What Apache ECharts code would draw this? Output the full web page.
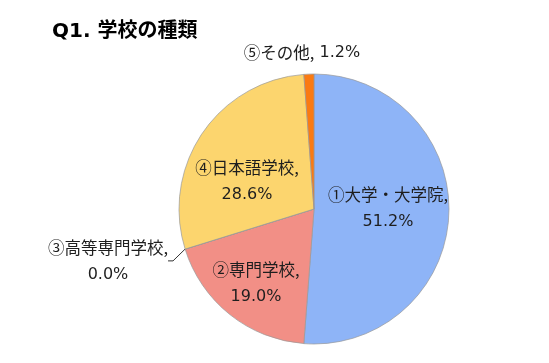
<!DOCTYPE html>
<html><head><meta charset="utf-8">
<script src="https://cdn.jsdelivr.net/npm/echarts@6/dist/echarts.min.js"></script>
<style>html,body{margin:0;padding:0;background:#fff}#c{width:549px;height:363px}</style>
</head><body><div id="c"></div>
<script>
const titleText = 'Q1. 学校の種類';
const categories = ['①大学・大学院', '②専門学校', '③高等専門学校', '④日本語学校', '⑤その他'];
const values = [51.2, 19.0, 0.0, 28.6, 1.2];
const allColors = ['#8EB4F7', '#F28F86', '#999999', '#FCD56E', '#FA7A12'];
const labelPos = [[388, 208], [256, 283], [108, 261], [247, 181], [302, 53]];

const chart = echarts.init(document.getElementById('c'), null, {renderer: 'canvas'});
const cjk = '"Noto Sans CJK JP", sans-serif';
const lat = '"DejaVu Sans", sans-serif';
const rich = {
  a: {fontFamily: cjk, fontSize: 16.5, lineHeight: 27, color: '#1e1e1e'},
  b: {fontFamily: lat, fontSize: 16, lineHeight: 27, color: '#1e1e1e'}
};
chart.setOption({
  animation: false,
  title: {
    text: titleText, left: 47, top: 17,
    textStyle: {fontFamily: '"DejaVu Sans", "Noto Sans CJK JP", sans-serif', fontSize: 20, fontWeight: 'bold', color: '#000'}
  },
  series: [{
    type: 'pie',
    center: [314, 209],
    radius: [0, 135],
    startAngle: 90,
    clockwise: true,
    avoidLabelOverlap: false,
    itemStyle: {borderColor: '#9a9a9a', borderWidth: 0.7},
    label: {
      show: true, rich: rich,
      formatter: p => '{a|' + p.name + ',}\n{b|' + p.value.toFixed(1) + '%}'
    },
    labelLine: {show: false},
    labelLayout: function (params) {
      const p = labelPos[params.dataIndex];
      return {x: p[0], y: p[1], align: 'center', verticalAlign: 'middle'};
    },
    data: categories.map((c, i) => {
      const d = {name: c, value: values[i], itemStyle: {color: allColors[i]}};
      if (i === 4) {
        d.label = {formatter: p => '{a|' + p.name + ',}{b|\u00a0' + p.value.toFixed(1) + '%}'};
      }
      if (i === 2) {
        d.labelLine = {show: true, length: 5, length2: 5, lineStyle: {color: '#333', width: 1}};
      }
      return d;
    })
  }]
});
</script></body></html>
